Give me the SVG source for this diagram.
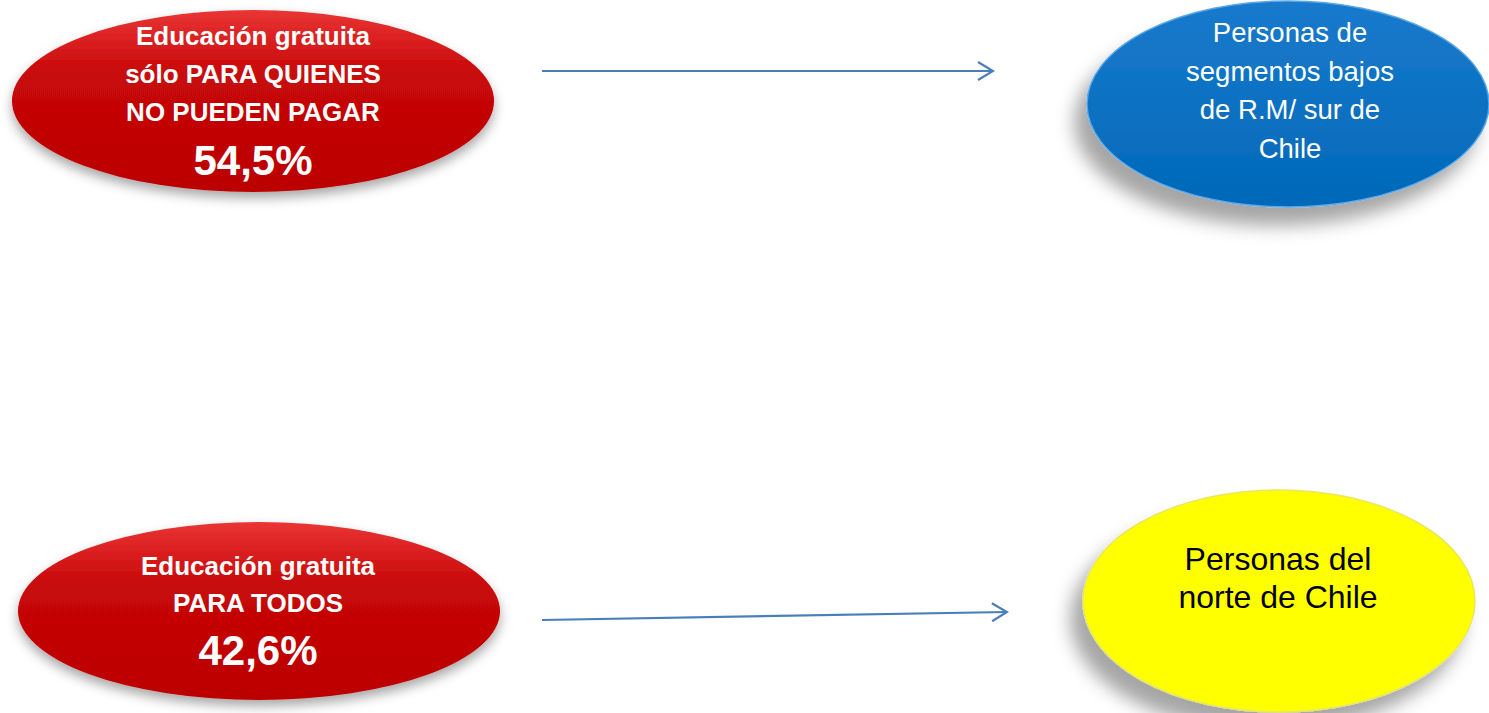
<svg xmlns="http://www.w3.org/2000/svg" width="1489" height="713" viewBox="0 0 1489 713">
<style>
.t{font-family:"Liberation Sans",Arial,sans-serif;text-anchor:middle}
.w{fill:#ffffff}
.b{font-weight:bold}
.conn{stroke:#4a7ebb;stroke-width:2.2;fill:none}
</style>
<defs>
<linearGradient id="red" x1="0" y1="0" x2="0" y2="1">
<stop offset="0" stop-color="#ea3535"/>
<stop offset="0.35" stop-color="#c80808"/>
<stop offset="1" stop-color="#bb0000"/>
</linearGradient>
<linearGradient id="blue" x1="0" y1="0" x2="0" y2="1">
<stop offset="0" stop-color="#1a7acc"/>
<stop offset="1" stop-color="#0068b8"/>
</linearGradient>
<filter id="sh" x="-20%" y="-20%" width="140%" height="160%">
<feGaussianBlur in="SourceAlpha" stdDeviation="6"/>
<feOffset dx="0" dy="6" result="b"/>
<feFlood flood-color="#000" flood-opacity="0.35"/>
<feComposite in2="b" operator="in"/>
<feMerge><feMergeNode/><feMergeNode in="SourceGraphic"/></feMerge>
</filter>
<filter id="sh2" x="-20%" y="-20%" width="140%" height="160%">
<feGaussianBlur in="SourceAlpha" stdDeviation="9"/>
<feOffset dx="-12" dy="18" result="b"/>
<feFlood flood-color="#000" flood-opacity="0.35"/>
<feComposite in2="b" operator="in"/>
<feMerge><feMergeNode/><feMergeNode in="SourceGraphic"/></feMerge>
</filter>
<marker id="arr" viewBox="0 0 20 20" refX="18" refY="10" markerWidth="20" markerHeight="20" markerUnits="userSpaceOnUse" orient="auto">
<path d="M3,1 L18,10 L3,19" fill="none" stroke="#4a7ebb" stroke-width="2.2"/>
</marker>
</defs>
<g id="connectors">
<line class="conn" x1="542" y1="71" x2="993" y2="71" marker-end="url(#arr)"/>
<line class="conn" x1="542" y1="620" x2="1007" y2="612" marker-end="url(#arr)"/>
</g>
<g id="node-pagar">
<ellipse cx="253" cy="101" rx="241" ry="91" fill="url(#red)" filter="url(#sh)"/>
<text class="t w b" x="253" y="45" font-size="26">Educación gratuita</text>
<text class="t w b" x="253" y="83" font-size="26">sólo PARA QUIENES</text>
<text class="t w b" x="253" y="121" font-size="26">NO PUEDEN PAGAR</text>
<text class="t w b" x="253" y="175" font-size="42">54,5%</text>
</g>
<g id="node-todos">
<ellipse cx="259" cy="611" rx="241" ry="89" fill="url(#red)" filter="url(#sh)"/>
<text class="t w b" x="258" y="575" font-size="26">Educación gratuita</text>
<text class="t w b" x="258" y="612" font-size="26">PARA TODOS</text>
<text class="t w b" x="258" y="665" font-size="42">42,6%</text>
</g>
<g id="node-sur">
<ellipse cx="1288" cy="104" rx="201" ry="103" fill="url(#blue)" filter="url(#sh2)" stroke="#5aa8e8" stroke-width="1.5"/>
<text class="t w" x="1290" y="42" font-size="27.5">Personas  de</text>
<text class="t w" x="1290" y="81" font-size="27.5">segmentos bajos</text>
<text class="t w" x="1290" y="119" font-size="27.5">de R.M/ sur de</text>
<text class="t w" x="1290" y="158" font-size="27.5">Chile</text>
</g>
<g id="node-norte">
<ellipse cx="1279" cy="601" rx="196" ry="111" fill="#ffff00" filter="url(#sh2)" stroke="#e8e860" stroke-width="1.5"/>
<text class="t" x="1278" y="570" font-size="32" fill="#000">Personas del</text>
<text class="t" x="1278" y="608" font-size="32" fill="#000">norte de Chile</text>
</g>
</svg>
